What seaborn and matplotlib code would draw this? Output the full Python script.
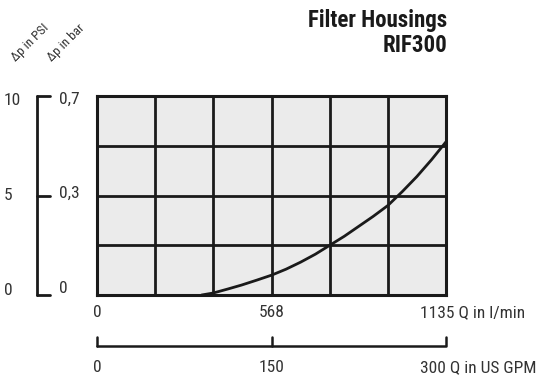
import numpy as np
import pandas as pd
import seaborn as sns
import matplotlib.pyplot as plt

# flow in l/min vs pressure drop in PSI
flow_lpm = [340, 378, 425, 470, 520, 568, 615, 662, 710, 757, 804, 851, 898, 946, 993, 1040, 1088, 1135]
dp_psi = [0.0, 0.1, 0.3, 0.5, 0.75, 1.0, 1.3, 1.65, 2.05, 2.5, 2.95, 3.45, 3.95, 4.5, 5.2, 5.95, 6.8, 7.7]

x_ticks = [0, 568, 1135]
x_labels = ["0", "568", "1135 Q in l/min"]
gpm_labels = ["0", "150", "300 Q in US GPM"]
psi_labels = ["0", "5", "10"]
bar_labels = ["0", "0,3", "0,7"]

df = pd.DataFrame({"flow": flow_lpm, "dp": dp_psi})

sns.set_style("white")
plt.rcParams['font.family'] = ['Roboto Condensed', 'DejaVu Sans']

fig = plt.figure(figsize=(5.39, 3.79), dpi=100)
ax = fig.add_axes([0.18, 0.2216, 0.6475, 0.5251])
ax.set_facecolor("#ebebeb")

sns.lineplot(data=df, x="flow", y="dp", color="#1a1a1a", linewidth=2, ax=ax, zorder=3)

ax.set_xlim(0, 1135)
ax.set_ylim(0, 10)
# 6 x 4 grid
for v in np.linspace(0, 1135, 7)[1:-1]:
    ax.axvline(v, color="#1a1a1a", linewidth=2, zorder=2)
for v in np.linspace(0, 10, 5)[1:-1]:
    ax.axhline(v, color="#1a1a1a", linewidth=2, zorder=2)
for s in ax.spines.values():
    s.set_visible(True)
    s.set_color("#1a1a1a")
    s.set_linewidth(2.2)
ax.set_xticks([])
ax.set_yticks([])
ax.set_xlabel("")
ax.set_ylabel("")

tc = "#333333"
fs = 12.5
# flow labels below the box (l/min)
for v, lab in zip(x_ticks, x_labels):
    ha = "left" if v == 1135 else "center"
    xx = 0.925 * 1135 if v == 1135 else v
    ax.text(xx, -0.5, lab, ha=ha, va="top", fontsize=fs, color=tc, clip_on=False)

# US GPM scale line
for xs, ys in [([0, 1, 1], [-0.255, -0.255, -0.21]), ([0, 0], [-0.255, -0.21]),
               ([0.5, 0.5], [-0.255, -0.21])]:
    ax.plot(xs, ys, transform=ax.transAxes, color="#1a1a1a", linewidth=1.8, clip_on=False)
for v, lab in zip([0, 0.5, 1], gpm_labels):
    ha = "left" if v == 1 else "center"
    xx = 0.925 if v == 1 else v
    ax.text(xx, -0.325, lab, ha=ha, va="top", fontsize=fs, color=tc,
            transform=ax.transAxes, clip_on=False)

# pressure scale on the left
lx = (37 - 97) / 349.0
tx = (50 - 97) / 349.0
ax.plot([lx, lx], [0, 1], transform=ax.transAxes, color="#1a1a1a",
        linewidth=2, clip_on=False)
for v in [0, 0.5, 1]:
    ax.plot([lx, tx], [v, v], transform=ax.transAxes, color="#1a1a1a",
            linewidth=2, clip_on=False)
for v, p, b in zip([0.025, 0.5, 0.975], psi_labels, bar_labels):
    ax.text((4 - 97) / 349.0, v, p, ha="left", va="center", fontsize=fs,
            color=tc, transform=ax.transAxes, clip_on=False)
    ax.text((59 - 97) / 349.0, v + 0.01, b, ha="left", va="center", fontsize=fs,
            color=tc, transform=ax.transAxes, clip_on=False)

fig.text(18 / 539, 1 - 64 / 379, "Δp in PSI", rotation=45, fontsize=9.5,
         color=tc, ha="left", va="bottom", rotation_mode="anchor")
fig.text(54 / 539, 1 - 64 / 379, "Δp in bar", rotation=45, fontsize=9.5,
         color=tc, ha="left", va="bottom", rotation_mode="anchor")

fig.text(447 / 539, 1 - 20 / 379, "Filter Housings", ha="right", va="center",
         fontsize=16.5, fontweight="bold", color="#1a1a1a")
fig.text(447 / 539, 1 - 45 / 379, "RIF300", ha="right", va="center",
         fontsize=16.5, fontweight="bold", color="#1a1a1a")

fig.savefig("out.png", dpi=100)
